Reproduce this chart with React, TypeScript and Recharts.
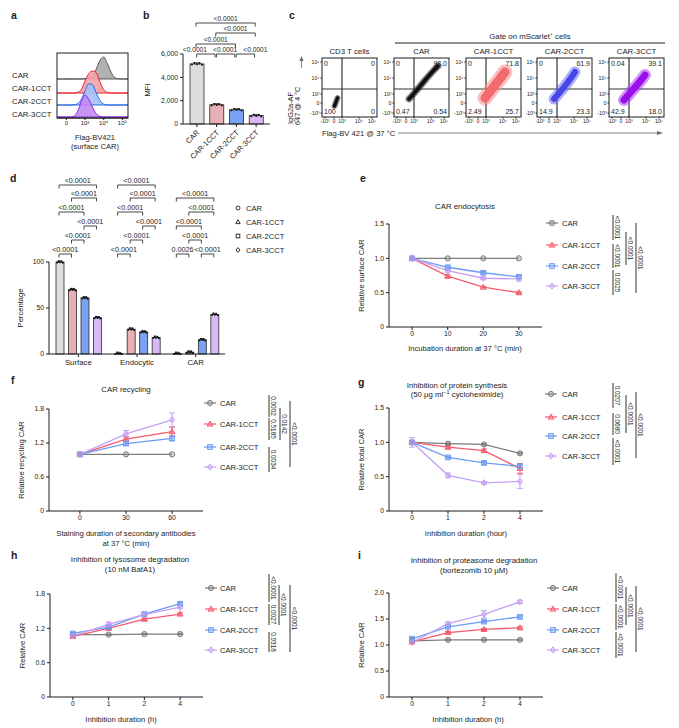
import React from "react";
import {
  AreaChart,
  Area,
  BarChart,
  Bar,
  LineChart,
  Line,
  ScatterChart,
  Scatter,
  XAxis,
  YAxis,
  ErrorBar,
  ReferenceLine,
} from "recharts";

const FONT = "'Liberation Sans', Arial, Helvetica, sans-serif";
const INK = "#1c1c1c";

const variants = ["CAR", "CAR-1CCT", "CAR-2CCT", "CAR-3CCT"];
const lineColors = ["#7d7d7d", "#f45b6c", "#6b9bf3", "#c6a0f4"];
const barColors = ["#dddddd", "#e7afb6", "#7aa2f2", "#d7b9f6"];
const histFill = ["#a8a8a8", "#f3a2a9", "#a3c1f7", "#c28af2"];
const histStroke = ["#585858", "#e8232d", "#2766e4", "#8b2ae0"];

// a: Flag-BV421 histograms (x in display decades, heights normalised to peak)
const histX = [-0.5, -0.2, 0, 0.2, 0.4, 0.6, 0.8, 1.0, 1.2, 1.4, 1.6, 1.8, 2.0, 2.2, 2.4, 2.6, 2.8, 3.0, 3.3];
const histCAR = [0, 0, 0, 0, 0, 0, 0, 0.02, 0.06, 0.18, 0.45, 0.85, 1.0, 0.7, 0.3, 0.06, 0.01, 0, 0];
const hist1CCT = [0, 0, 0, 0, 0, 0.03, 0.15, 0.55, 0.88, 1.0, 0.92, 0.5, 0.15, 0.03, 0, 0, 0, 0, 0];
const hist2CCT = [0, 0, 0, 0, 0.01, 0.06, 0.25, 0.65, 0.97, 0.92, 0.55, 0.2, 0.04, 0, 0, 0, 0, 0, 0];
const hist3CCT = [0, 0, 0, 0, 0.03, 0.25, 0.7, 1.0, 0.8, 0.45, 0.15, 0.03, 0, 0, 0, 0, 0, 0, 0];
const histTicks = ["0", "10³", "10⁴", "10⁵"];

// b: surface CAR MFI
const mfiValues = [5150, 1650, 1220, 720];

// c: flow plots (channel units of the plot box)
const flowTitles = ["CD3 T cells", "CAR", "CAR-1CCT", "CAR-2CCT", "CAR-3CCT"];
const flowQuadrants = [
  ["0", "0", "100", "0"],
  ["0", "98.0", "0.47", "0.54"],
  ["0", "71.8", "2.49", "25.7"],
  ["0", "61.9", "14.9", "23.3"],
  ["0.04", "39.1", "42.9", "18.0"],
];
const flowClouds = [
  [{ x: 12.5, y: 11 }, { x: 14, y: 15 }, { x: 15.5, y: 19 }],
  [{ x: 15, y: 18 }, { x: 23, y: 27 }, { x: 32, y: 38 }, { x: 40, y: 47 }, { x: 44, y: 51 }],
  [{ x: 19, y: 19 }, { x: 26, y: 28 }, { x: 33, y: 37 }, { x: 39, y: 45 }],
  [{ x: 17, y: 18 }, { x: 24, y: 26 }, { x: 31, y: 35 }, { x: 36, y: 42 }, { x: 38, y: 45 }],
  [{ x: 15, y: 17 }, { x: 21, y: 24 }, { x: 28, y: 32 }, { x: 33, y: 38 }, { x: 36, y: 42 }],
];
const flowTickLabels = ["-10³", "0", "10³", "10⁴", "10⁵"];
const flowXTicks = [3, 12, 20, 37, 50];
const flowYTicks = [4, 14, 23, 39, 55];
const cloudOuter = ["#333333", "#2a2a2a", "#f58a8c", "#6b6bf2", "#b040f2"];
const cloudInner = ["#111111", "#111111", "#f06a6e", "#4646e8", "#9a10ea"];
const outerW = [6, 7, 15, 11, 12];
const innerW = [3.5, 4, 9, 6, 7];

// d: CAR distribution
const fateGroups = ["Surface", "Endocytic", "CAR"];
const fateCAR = [100, 0.6, 0.6];
const fate1CCT = [70, 27, 2];
const fate2CCT = [61, 24, 15.5];
const fate3CCT = [39.5, 18, 43];

// e: endocytosis
const endoTimes = ["0", "10", "20", "30"];
const endoCAR = [1, 1, 1, 1];
const endo1CCT = [1, 0.74, 0.58, 0.5];
const endo2CCT = [1, 0.87, 0.79, 0.73];
const endo3CCT = [1, 0.82, 0.71, 0.7];
const endoErr = [[0, 0, 0, 0], [0.01, 0.02, 0.01, 0.01], [0.01, 0.02, 0.02, 0.02], [0.01, 0.02, 0.02, 0.03]];

// f: recycling
const recTimes = ["0", "30", "60"];
const recCAR = [1, 1, 1];
const rec1CCT = [1, 1.27, 1.4];
const rec2CCT = [1, 1.19, 1.28];
const rec3CCT = [1, 1.36, 1.61];
const recErr = [[0, 0, 0], [0.01, 0.04, 0.08], [0.01, 0.03, 0.04], [0.01, 0.06, 0.12]];

// g: cycloheximide
const inhTimes = ["0", "1", "2", "4"];
const synCAR = [1, 0.98, 0.97, 0.84];
const syn1CCT = [1, 0.93, 0.88, 0.62];
const syn2CCT = [1, 0.78, 0.7, 0.65];
const syn3CCT = [1, 0.52, 0.41, 0.43];
const synErr = [[0.01, 0.01, 0.01, 0.01], [0.02, 0.02, 0.02, 0.07], [0.02, 0.01, 0.02, 0.03], [0.07, 0.03, 0.02, 0.1]];

// h: BafA1
const lysCAR = [1.09, 1.09, 1.1, 1.1];
const lys1CCT = [1.06, 1.2, 1.36, 1.45];
const lys2CCT = [1.11, 1.22, 1.45, 1.63];
const lys3CCT = [1.07, 1.27, 1.44, 1.57];
const lysErr = [[0.01, 0.01, 0.01, 0.01], [0.01, 0.02, 0.02, 0.02], [0.02, 0.02, 0.02, 0.02], [0.03, 0.04, 0.02, 0.02]];

// i: bortezomib
const proCAR = [1.08, 1.1, 1.1, 1.1];
const pro1CCT = [1.06, 1.24, 1.3, 1.33];
const pro2CCT = [1.12, 1.35, 1.45, 1.54];
const pro3CCT = [1.05, 1.41, 1.59, 1.83];
const proErr = [[0.01, 0.01, 0.01, 0.01], [0.01, 0.02, 0.02, 0.02], [0.02, 0.02, 0.02, 0.02], [0.02, 0.03, 0.07, 0.03]];

type Box = { left: number; top: number; right: number; bottom: number };
type PCol = { x: number; segs: [number, number, string][] };
type LineCfg = {
  letter: [string, number, number];
  box: Box;
  xDomain: [number, number];
  times: string[];
  series: number[][];
  errs: number[][];
  yDomain: [number, number];
  yTicks: number[];
  title: { x: number; lines: [number, React.ReactNode][] };
  yLabel: string;
  xLabel: { x: number; lines: [number, string][] };
  legend: { mx: number; tx: number; ys: number[] };
  pcols: PCol[];
};

const lineCfgs: LineCfg[] = [
  {
    letter: ["e", 360, 182],
    box: { left: 389, top: 224, right: 542, bottom: 327 },
    xDomain: [-0.65, 3.65],
    times: endoTimes,
    series: [endoCAR, endo1CCT, endo2CCT, endo3CCT],
    errs: endoErr,
    yDomain: [0, 1.5],
    yTicks: [0, 0.5, 1, 1.5],
    title: { x: 465, lines: [[209, "CAR endocytosis"]] },
    yLabel: "Relative surface CAR",
    xLabel: { x: 465, lines: [[351, "Incubation duration at 37 °C (min)"]] },
    legend: { mx: 552, tx: 562, ys: [223, 245, 266, 286] },
    pcols: [
      { x: 613, segs: [[215, 240, "<0.0001"], [244, 268, "<0.0001"], [270, 295, "0.0025"]] },
      { x: 626, segs: [[232, 265, "<0.0001"]] },
      { x: 636, segs: [[223, 293, "<0.0001"]] },
    ],
  },
  {
    letter: ["f", 11, 384],
    box: { left: 49, top: 409, right: 203, bottom: 511 },
    xDomain: [-0.67, 2.67],
    times: recTimes,
    series: [recCAR, rec1CCT, rec2CCT, rec3CCT],
    errs: recErr,
    yDomain: [0, 1.8],
    yTicks: [0, 0.6, 1.2, 1.8],
    title: { x: 126, lines: [[392, "CAR recycling"]] },
    yLabel: "Relative recycling CAR",
    xLabel: { x: 126, lines: [[536, "Staining duration of secondary antibodies"], [546, "at 37 °C (min)"]] },
    legend: { mx: 210, tx: 220, ys: [403, 424, 447, 467] },
    pcols: [
      { x: 269, segs: [[395, 417, "0.0002"], [418, 440, "0.5185"], [447, 472, "0.0034"]] },
      { x: 280, segs: [[408, 440, "0.0142"]] },
      { x: 290, segs: [[401, 467, "<0.0001"]] },
    ],
  },
  {
    letter: ["g", 358, 386],
    box: { left: 389, top: 408, right: 543, bottom: 511 },
    xDomain: [-0.64, 3.64],
    times: inhTimes,
    series: [synCAR, syn1CCT, syn2CCT, syn3CCT],
    errs: synErr,
    yDomain: [0, 1.5],
    yTicks: [0, 0.5, 1, 1.5],
    title: {
      x: 457,
      lines: [
        [388, "Inhibition of protein synthesis"],
        [
          397,
          <>
            (50 µg ml<tspan dy={-3} fontSize={5.5}>−1</tspan>
            <tspan dy={3}> cycloheximide)</tspan>
          </>,
        ],
      ],
    },
    yLabel: "Relative total CAR",
    xLabel: { x: 466, lines: [[536, "Inhibition duration (hour)"]] },
    legend: { mx: 551, tx: 562, ys: [394, 417, 436, 456] },
    pcols: [
      { x: 613, segs: [[383, 408, "0.0207"], [413, 435, "0.0680"], [438, 465, "<0.0001"]] },
      { x: 626, segs: [[395, 433, "<0.0001"]] },
      { x: 636, segs: [[392, 458, "<0.0001"]] },
    ],
  },
  {
    letter: ["h", 11, 559],
    box: { left: 50, top: 594, right: 203, bottom: 697 },
    xDomain: [-0.64, 3.64],
    times: inhTimes,
    series: [lysCAR, lys1CCT, lys2CCT, lys3CCT],
    errs: lysErr,
    yDomain: [0, 1.8],
    yTicks: [0, 0.6, 1.2, 1.8],
    title: { x: 130, lines: [[562, "Inhibition of lysosome degradation"], [572, "(10 nM BafA1)"]] },
    yLabel: "Relative CAR",
    xLabel: { x: 121, lines: [[722, "Inhibition duration (h)"]] },
    legend: { mx: 211, tx: 220, ys: [588, 609, 630, 650] },
    pcols: [
      { x: 269, segs: [[574, 602, "<0.0001"], [604, 625, "0.0027"], [632, 652, "0.9318"]] },
      { x: 279, segs: [[585, 625, "<0.0001"]] },
      { x: 290, segs: [[585, 652, "<0.0001"]] },
    ],
  },
  {
    letter: ["i", 358, 559],
    box: { left: 389, top: 593, right: 543, bottom: 697 },
    xDomain: [-0.64, 3.64],
    times: inhTimes,
    series: [proCAR, pro1CCT, pro2CCT, pro3CCT],
    errs: proErr,
    yDomain: [0, 2],
    yTicks: [0, 0.5, 1, 1.5, 2],
    title: { x: 474, lines: [[563, "Inhibition of proteasome degradation"], [573, "(bortezomib 10 µM)"]] },
    yLabel: "Relative CAR",
    xLabel: { x: 468, lines: [[722, "Inhibition duration (h)"]] },
    legend: { mx: 553, tx: 562, ys: [588, 609, 630, 650] },
    pcols: [
      { x: 616, segs: [[573, 602, "<0.0001"], [604, 630, "<0.0001"], [632, 658, "<0.0001"]] },
      { x: 626, segs: [[587, 625, "<0.0001"]] },
      { x: 636, segs: [[586, 652, "<0.0001"]] },
    ],
  },
];

const tickFont = { fontSize: 6.8, fill: INK };
const fmtTick = (v: number) => (v === 0 ? "0" : v.toFixed(1));
const fmtThousands = (v: number) => String(v).replace(/\B(?=(\d{3})+(?!\d))/g, ",");

const YW = 26;
const MT = 4;
const MR = 4;
const XH = 14;

function Marker({ cx, cy, kind, color, fill, r = 2.6 }: { cx?: number; cy?: number; kind: number; color: string; fill?: string; r?: number }) {
  if (cx == null || cy == null) return <g />;
  const p = { stroke: color, strokeWidth: 1, fill: fill ?? color, fillOpacity: fill ? 1 : 0.3 };
  if (kind === 0) return <circle cx={cx} cy={cy} r={r} {...p} />;
  if (kind === 1)
    return <polygon points={`${cx},${cy - r * 1.15} ${cx + r * 1.1},${cy + r * 0.8} ${cx - r * 1.1},${cy + r * 0.8}`} {...p} />;
  if (kind === 2) return <rect x={cx - r * 0.9} y={cy - r * 0.9} width={r * 1.8} height={r * 1.8} {...p} />;
  return <polygon points={`${cx},${cy - r * 1.2} ${cx + r},${cy} ${cx},${cy + r * 1.2} ${cx - r},${cy}`} {...p} />;
}

function DotBar(props: any) {
  const { x, y, width, height, fill } = props;
  const cx = x + width / 2;
  const offs = [-0.36, -0.18, 0, 0.18, 0.36];
  const jit = [0.6, -0.8, 0.3, -0.5, 0.8];
  return (
    <g>
      <rect x={x} y={y} width={width} height={Math.max(height, 0.6)} fill={fill} stroke="#2b2b2b" strokeWidth={0.8} />
      <line x1={cx - width * 0.25} x2={cx + width * 0.25} y1={y - 1.2} y2={y - 1.2} stroke="#111" strokeWidth={0.7} />
      {offs.map((o, i) => (
        <circle key={i} cx={cx + o * width} cy={y + jit[i]} r={1.05} fill="#111" />
      ))}
    </g>
  );
}

function RotTick(props: any) {
  const { x, y, payload } = props;
  const tx = x + 3;
  const ty = y + 4;
  return (
    <text x={tx} y={ty} transform={`rotate(-45 ${tx} ${ty})`} textAnchor="end" fontSize={7.4} fill={INK}>
      {payload.value}
    </text>
  );
}

function HistogramPanel() {
  const box = { left: 57, top: 53, right: 128, bottom: 118 };
  const rows = histX.map((x, i) => ({
    x,
    r0: [39, 39 + histCAR[i] * 22],
    r1: [25, 25 + hist1CCT[i] * 22],
    r2: [13, 13 + hist2CCT[i] * 22],
    r3: [1, 1 + hist3CCT[i] * 22],
  }));
  return (
    <div style={{ position: "absolute", left: box.left, top: box.top }}>
      <AreaChart
        width={box.right - box.left}
        height={box.bottom - box.top + 12}
        data={rows}
        margin={{ top: 0, right: 0, left: 0, bottom: 0 }}
      >
        <XAxis
          type="number"
          dataKey="x"
          domain={[-0.5, 3.3]}
          ticks={[0, 1, 2, 3]}
          tickFormatter={(v: number) => histTicks[v] ?? ""}
          height={12}
          interval={0}
          tickSize={2}
          tickMargin={1}
          tick={{ fontSize: 6, fill: INK }}
          stroke={INK}
          allowDataOverflow
        />
        <YAxis hide type="number" domain={[0, 65]} allowDataOverflow />
        {[0, 1, 2, 3].map((k) => (
          <Area
            key={k}
            type="monotone"
            dataKey={"r" + k}
            stroke={histStroke[k]}
            strokeWidth={1}
            fill={histFill[k]}
            fillOpacity={0.9}
            isAnimationActive={false}
          />
        ))}
      </AreaChart>
    </div>
  );
}

function MfiPanel() {
  const box = { left: 183, top: 54, right: 270, bottom: 124 };
  const yw = 32;
  const rows = variants.map((n, i) => ({ name: n, mfi: mfiValues[i] }));
  return (
    <div style={{ position: "absolute", left: box.left - yw, top: box.top - 4 }}>
      <BarChart
        width={box.right - box.left + yw + 2}
        height={box.bottom - box.top + 4 + 40}
        data={rows}
        margin={{ top: 4, right: 2, left: 0, bottom: 0 }}
      >
        <XAxis
          dataKey="name"
          height={40}
          interval={0}
          tickSize={3}
          tickMargin={2}
          tick={(p: any) => <RotTick {...p} />}
          stroke={INK}
          padding={{ left: 4, right: 4 }}
        />
        <YAxis
          domain={[0, 6000]}
          ticks={[0, 2000, 4000, 6000]}
          tickFormatter={fmtThousands}
          width={yw}
          interval={0}
          tickSize={3}
          tickMargin={2}
          tick={tickFont}
          stroke={INK}
        />
        <Bar
          dataKey="mfi"
          barSize={14}
          isAnimationActive={false}
          shape={(p: any) => <DotBar {...p} fill={barColors[p.index]} />}
        />
      </BarChart>
    </div>
  );
}

const flowLefts = [322, 394, 466, 537, 609];
const FLOW_W = 55;
const FLOW_H = 59;

function FlowPlot({ idx }: { idx: number }) {
  const fy = 14;
  const fx = 10;
  const lineStyle = (c: string, w: number, o: number) => ({
    stroke: c,
    strokeWidth: w,
    strokeOpacity: o,
    strokeLinecap: "round",
    strokeLinejoin: "round",
  });
  return (
    <div style={{ position: "absolute", left: flowLefts[idx] - fy, top: 57 }}>
      <ScatterChart width={FLOW_W + fy + 1} height={FLOW_H + 1 + fx} margin={{ top: 1, right: 1, left: 0, bottom: 0 }}>
        <XAxis
          type="number"
          dataKey="x"
          domain={[0, FLOW_W]}
          ticks={flowXTicks}
          tickFormatter={(v: number) => flowTickLabels[flowXTicks.indexOf(v)]}
          height={fx}
          interval={0}
          tickSize={1.5}
          tickMargin={1}
          axisLine={false}
          tick={{ fontSize: 5.2, fill: INK }}
          stroke={INK}
          allowDataOverflow
        />
        <YAxis
          type="number"
          dataKey="y"
          domain={[0, FLOW_H]}
          ticks={flowYTicks}
          tickFormatter={(v: number) => flowTickLabels[flowYTicks.indexOf(v)]}
          width={fy}
          interval={0}
          tickSize={1.5}
          tickMargin={1}
          axisLine={false}
          tick={{ fontSize: 5.2, fill: INK }}
          stroke={INK}
          allowDataOverflow
        />
        <Scatter
          data={flowClouds[idx]}
          line={lineStyle(cloudOuter[idx], outerW[idx], 0.55)}
          lineType="joint"
          shape={() => <g />}
          isAnimationActive={false}
        />
        <Scatter
          data={flowClouds[idx]}
          line={lineStyle(cloudInner[idx], innerW[idx], 1)}
          lineType="joint"
          shape={() => <g />}
          isAnimationActive={false}
        />
        <ReferenceLine x={20} stroke="#333" strokeWidth={1.2} />
        <ReferenceLine y={28} stroke="#333" strokeWidth={1.2} />
      </ScatterChart>
    </div>
  );
}

function FatePanel() {
  const box = { left: 49, top: 262, right: 225, bottom: 354 };
  const rows = fateGroups.map((g, i) => ({ name: g, v0: fateCAR[i], v1: fate1CCT[i], v2: fate2CCT[i], v3: fate3CCT[i] }));
  return (
    <div style={{ position: "absolute", left: box.left - YW, top: box.top - MT }}>
      <BarChart
        width={box.right - box.left + YW + MR}
        height={box.bottom - box.top + MT + 18}
        data={rows}
        barSize={8}
        barGap={4.5}
        margin={{ top: MT, right: MR, left: 0, bottom: 0 }}
      >
        <XAxis dataKey="name" height={18} interval={0} tickSize={3} tickMargin={2} tick={{ fontSize: 7.8, fill: INK }} stroke={INK} />
        <YAxis domain={[0, 100]} ticks={[0, 50, 100]} width={YW} interval={0} tickSize={3} tickMargin={2} tick={tickFont} stroke={INK} />
        {[0, 1, 2, 3].map((k) => (
          <Bar key={k} dataKey={"v" + k} fill={barColors[k]} isAnimationActive={false} shape={(p: any) => <DotBar {...p} />} />
        ))}
      </BarChart>
    </div>
  );
}

function LinePanel({ cfg }: { cfg: LineCfg }) {
  const { box, times, series, errs } = cfg;
  const rows = times.map((_, i) => {
    const r: Record<string, number> = { i };
    series.forEach((s, k) => {
      r["v" + k] = s[i];
      r["e" + k] = errs[k][i];
    });
    return r;
  });
  const w = box.right - box.left + YW + MR;
  const h = box.bottom - box.top + MT + XH;
  return (
    <div style={{ position: "absolute", left: box.left - YW, top: box.top - MT }}>
      <LineChart width={w} height={h} data={rows} margin={{ top: MT, right: MR, left: 0, bottom: 0 }}>
        <XAxis
          type="number"
          dataKey="i"
          domain={cfg.xDomain}
          ticks={times.map((_, i) => i)}
          tickFormatter={(v: number) => times[v] ?? ""}
          height={XH}
          interval={0}
          tickSize={3}
          tickMargin={1}
          tick={tickFont}
          stroke={INK}
          allowDataOverflow
        />
        <YAxis
          type="number"
          domain={cfg.yDomain}
          ticks={cfg.yTicks}
          tickFormatter={fmtTick}
          width={YW}
          interval={0}
          tickSize={3}
          tickMargin={2}
          tick={tickFont}
          stroke={INK}
          allowDataOverflow
        />
        {series.map((_, k) => (
          <Line
            key={k}
            type="linear"
            dataKey={"v" + k}
            stroke={lineColors[k]}
            strokeWidth={1.3}
            isAnimationActive={false}
            activeDot={false}
            dot={(p: any) => <Marker key={"m" + k + "-" + p.index} cx={p.cx} cy={p.cy} kind={k} color={lineColors[k]} />}
          >
            <ErrorBar dataKey={"e" + k} width={3} stroke={lineColors[k]} strokeWidth={1} direction="y" />
          </Line>
        ))}
      </LineChart>
    </div>
  );
}

function Bracket({ x1, x2, y, label, fs = 7, dx = 0 }: { x1: number; x2: number; y: number; label: string; fs?: number; dx?: number }) {
  return (
    <g>
      <path d={`M${x1},${y + 3.5}V${y}H${x2}V${y + 3.5}`} fill="none" stroke="#333" strokeWidth={0.9} />
      <text x={(x1 + x2) / 2 + dx} y={y - 2} textAnchor="middle" fontSize={fs}>
        {label}
      </text>
    </g>
  );
}

function PColumn({ col }: { col: PCol }) {
  return (
    <g>
      {col.segs.map(([y1, y2, t], i) => {
        const tx = col.x + 1.6;
        const ty = (y1 + y2) / 2;
        return (
          <g key={i}>
            <line x1={col.x} x2={col.x} y1={y1} y2={y2} stroke={INK} strokeWidth={0.9} />
            <text x={tx} y={ty} transform={`rotate(90 ${tx} ${ty})`} textAnchor="middle" fontSize={6.4}>
              {t}
            </text>
          </g>
        );
      })}
    </g>
  );
}

function Letter({ t, x, y }: { t: string; x: number; y: number }) {
  return (
    <text x={x} y={y} fontSize={10.5} fontWeight="bold">
      {t}
    </text>
  );
}

// row y, bar from, bar to, label shift
const bRows: [number, number, number, number][] = [
  [54, 0, 1, -11],
  [54, 1, 2, -0.5],
  [54, 2, 3, 10],
  [44, 0, 2, 0],
  [33, 1, 3, 0],
  [23, 0, 3, 0],
];
const dRowY = [185, 198, 212, 226, 240, 254];
const dPairs: [number, number, number, string][] = [
  [0, 0, 3, "<0.0001"],
  [1, 1, 3, "<0.0001"],
  [2, 0, 2, "<0.0001"],
  [3, 2, 3, "<0.0001"],
  [4, 1, 2, "<0.0001"],
  [5, 0, 1, "<0.0001"],
];
const dPairsCAR: [number, number, number, string][] = [
  [1, 0, 3, "<0.0001"],
  [2, 1, 3, "<0.0001"],
  [3, 0, 2, "<0.0001"],
  [4, 1, 2, "<0.0001"],
  [5, 0, 1, "0.0026"],
  [5, 2, 3, "<0.0001"],
];

function Overlay() {
  const bX = (k: number) => 187 + 19.75 * k + 9;
  const dX = (g: number, k: number) => 49 + (176 / 3) * g + 10 + 12.5 * k;
  const histLabelY = [78, 91, 104, 117];
  return (
    <svg
      width={679}
      height={728}
      style={{ position: "absolute", left: 0, top: 0, pointerEvents: "none" }}
      fontFamily={FONT}
      fill={INK}
    >
      {/* a */}
      <Letter t="a" x={11} y={19} />
      <rect x={57} y={53} width={71} height={65} fill="none" stroke={INK} strokeWidth={1} />
      {variants.map((v, i) => (
        <text key={v} x={12} y={histLabelY[i]} fontSize={7.8}>
          {v}
        </text>
      ))}
      <text x={95} y={140} textAnchor="middle" fontSize={7.6}>
        Flag-BV421
      </text>
      <text x={95} y={149} textAnchor="middle" fontSize={7.6}>
        (surface CAR)
      </text>

      {/* b */}
      <Letter t="b" x={143} y={19} />
      <text x={150} y={90} transform="rotate(-90 150 90)" textAnchor="middle" fontSize={7.6}>
        MFI
      </text>
      {bRows.map(([y, k1, k2, dx], i) => (
        <Bracket
          key={i}
          x1={bX(k1) + (k2 - k1 === 1 ? 0.7 : 0)}
          x2={bX(k2) - (k2 - k1 === 1 ? 0.7 : 0)}
          y={y}
          label="<0.0001"
          fs={6.6}
          dx={dx}
        />
      ))}

      {/* c */}
      <Letter t="c" x={289} y={19} />
      <text x={530} y={39} textAnchor="middle" fontSize={7.8}>
        Gate on mScarlet⁺ cells
      </text>
      <line x1={395} x2={665} y1={43} y2={43} stroke={INK} strokeWidth={1} />
      {flowTitles.map((t, i) => {
        const l = flowLefts[i];
        const q = flowQuadrants[i];
        return (
          <g key={t}>
            <text x={l + FLOW_W / 2} y={54} textAnchor="middle" fontSize={7.8}>
              {t}
            </text>
            <rect x={l} y={58} width={FLOW_W} height={FLOW_H} fill="none" stroke={INK} strokeWidth={1} />
            <text x={l + 2} y={66} fontSize={7}>
              {q[0]}
            </text>
            <text x={l + FLOW_W - 2} y={66} textAnchor="end" fontSize={7}>
              {q[1]}
            </text>
            <text x={l + 2} y={114} fontSize={7}>
              {q[2]}
            </text>
            <text x={l + FLOW_W - 2} y={114} textAnchor="end" fontSize={7}>
              {q[3]}
            </text>
          </g>
        );
      })}
      <text x={293} y={124} transform="rotate(-90 293 124)" fontSize={7.4}>
        IgG2a-AF
      </text>
      <text x={300} y={125} transform="rotate(-90 300 125)" fontSize={7.4}>
        647 @ 4 °C
      </text>
      <line x1={301.5} x2={301.5} y1={68} y2={60} stroke="#666" strokeWidth={0.8} />
      <polygon points="301.5,56 299.5,61 303.5,61" fill="#666" />
      <text x={322} y={136} fontSize={7.6}>
        Flag-BV 421 @ 37 °C
      </text>
      <line x1={398} x2={658} y1={133} y2={133} stroke="#666" strokeWidth={0.8} />
      <polygon points="663,133 657,131 657,135" fill="#666" />

      {/* d */}
      <Letter t="d" x={10} y={182} />
      <text x={23} y={308} transform="rotate(-90 23 308)" textAnchor="middle" fontSize={7.6}>
        Percentage
      </text>
      {[0, 1].map((g) =>
        dPairs.map(([r, k1, k2, t], i) => (
          <Bracket key={g + "-" + i} x1={dX(g, k1)} x2={dX(g, k2)} y={dRowY[r]} label={t} fs={7.2} />
        ))
      )}
      {dPairsCAR.map(([r, k1, k2, t], i) => (
        <Bracket key={"c" + i} x1={dX(2, k1)} x2={dX(2, k2)} y={dRowY[r]} label={t} fs={7.2} />
      ))}
      {variants.map((v, i) => (
        <g key={v}>
          <Marker cx={238} cy={208 + i * 14} kind={i} color="#333" fill="none" r={2} />
          <text x={246} y={211 + i * 14} fontSize={7.6}>
            {v}
          </text>
        </g>
      ))}

      {/* e - i */}
      {lineCfgs.map((c) => {
        const midY = (c.box.top + c.box.bottom) / 2;
        const yx = c.box.left - 25;
        return (
          <g key={c.letter[0]}>
            <Letter t={c.letter[0]} x={c.letter[1]} y={c.letter[2]} />
            {c.title.lines.map(([y, t], i) => (
              <text key={i} x={c.title.x} y={y} textAnchor="middle" fontSize={7.8}>
                {t}
              </text>
            ))}
            <text x={yx} y={midY} transform={`rotate(-90 ${yx} ${midY})`} textAnchor="middle" fontSize={7.6}>
              {c.yLabel}
            </text>
            {c.xLabel.lines.map(([y, t], i) => (
              <text key={i} x={c.xLabel.x} y={y} textAnchor="middle" fontSize={7.6}>
                {t}
              </text>
            ))}
            {variants.map((v, k) => {
              const y = c.legend.ys[k];
              return (
                <g key={v}>
                  <line x1={c.legend.mx - 6} x2={c.legend.mx + 6} y1={y} y2={y} stroke={lineColors[k]} strokeWidth={1.2} />
                  <Marker cx={c.legend.mx} cy={y} kind={k} color={lineColors[k]} />
                  <text x={c.legend.tx} y={y + 3} fontSize={7.6}>
                    {v}
                  </text>
                </g>
              );
            })}
            {c.pcols.map((col, i) => (
              <PColumn key={i} col={col} />
            ))}
          </g>
        );
      })}
    </svg>
  );
}

export default function App() {
  return (
    <div
      style={{
        position: "absolute",
        left: 0,
        top: 0,
        width: 679,
        height: 728,
        background: "#fff",
        fontFamily: FONT,
        overflow: "hidden",
      }}
    >
      <HistogramPanel />
      <MfiPanel />
      {flowTitles.map((_, i) => (
        <FlowPlot key={i} idx={i} />
      ))}
      <FatePanel />
      {lineCfgs.map((c) => (
        <LinePanel key={c.letter[0]} cfg={c} />
      ))}
      <Overlay />
    </div>
  );
}
